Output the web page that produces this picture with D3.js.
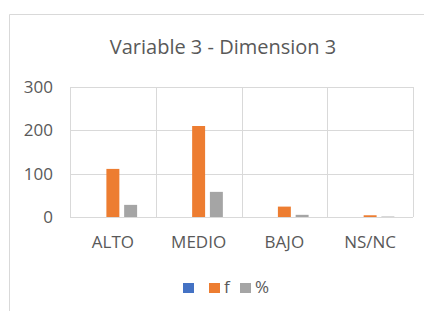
<!DOCTYPE html>
<html>
<head>
<meta charset="utf-8">
<script src="https://cdn.jsdelivr.net/npm/d3@7"></script>
<style>
  body { margin: 0; background: #fff; }
  text { font-family: "Open Sans", "Noto Sans", sans-serif; fill: #595959; }
  .grid line { stroke: #d9d9d9; stroke-width: 1; }
</style>
</head>
<body>
<script>
var categories = ['ALTO', 'MEDIO', 'BAJO', 'NS/NC'];
var seriesNames = ['', 'f', '%'];
var seriesColors = ['#4472c4', '#ed7d31', '#a5a5a5'];
var blankValues = [0, 0, 0, 0];
var fValues = [111, 210, 24, 4];
var pctValues = [28, 58, 5, 1];
var yTicks = [0, 100, 200, 300];

var svgWidth = 424, svgHeight = 311;
var plotLeft = 70, plotRight = 413, plotTop = 87, plotBottom = 217;

var svg = d3.select('body')
    .append('svg')
    .attr('width', svgWidth)
    .attr('height', svgHeight);

// chart frame (only top and left show)
svg.append('path')
    .attr('d', 'M9.5,' + svgHeight + 'V14.5H' + svgWidth)
    .attr('fill', 'none')
    .attr('stroke', '#d9d9d9');

svg.append('text')
    .attr('x', 223)
    .attr('y', 54)
    .attr('text-anchor', 'middle')
    .style('font-size', '20px')
    .text('Variable 3 - Dimension 3');

var xScale = d3.scaleBand()
    .domain(categories)
    .range([plotLeft, plotRight]);

var yScale = d3.scaleLinear()
    .domain([0, 300])
    .range([plotBottom, plotTop]);

var series = [blankValues, fValues, pctValues];
var inner = d3.scaleBand()
    .domain(d3.range(series.length))
    .range([0, xScale.bandwidth()])
    .paddingInner(0.27)
    .paddingOuter(1.05);

// horizontal grid
svg.append('g')
    .attr('class', 'grid')
    .selectAll('line')
    .data(yTicks)
    .join('line')
    .attr('x1', plotLeft)
    .attr('x2', plotRight)
    .attr('y1', function(d) { return Math.round(yScale(d)) + 0.5; })
    .attr('y2', function(d) { return Math.round(yScale(d)) + 0.5; });

// vertical grid between categories
svg.append('g')
    .attr('class', 'grid')
    .selectAll('line')
    .data(categories.concat(['end']))
    .join('line')
    .attr('x1', function(d, i) { return Math.round(plotLeft + i * xScale.step()) + 0.5; })
    .attr('x2', function(d, i) { return Math.round(plotLeft + i * xScale.step()) + 0.5; })
    .attr('y1', plotTop)
    .attr('y2', plotBottom);

// y axis labels
var yAxis = d3.axisLeft(yScale).tickValues(yTicks).tickSize(0).tickPadding(17);
svg.append('g')
    .attr('transform', 'translate(' + plotLeft + ',0)')
    .call(yAxis)
    .call(function(g) { g.select('.domain').remove(); })
    .selectAll('text')
    .style('font-size', '17px')
    .attr('fill', '#595959');

// x axis labels
var xAxis = d3.axisBottom(xScale).tickSize(0).tickPadding(19);
svg.append('g')
    .attr('transform', 'translate(0,' + plotBottom + ')')
    .call(xAxis)
    .call(function(g) { g.select('.domain').remove(); })
    .selectAll('text')
    .style('font-size', '17px')
    .attr('fill', '#595959');

// bars
series.forEach(function(vals, s) {
    svg.append('g')
        .selectAll('rect')
        .data(vals)
        .join('rect')
        .attr('x', function(d, i) { return xScale(categories[i]) + inner(s); })
        .attr('width', inner.bandwidth())
        .attr('y', function(d) { return yScale(d); })
        .attr('height', function(d) { return plotBottom - yScale(d); })
        .attr('fill', seriesColors[s]);
});

// legend
var legendX = [183, 209, 240];
var legend = svg.append('g');
seriesNames.forEach(function(name, s) {
    legend.append('rect')
        .attr('x', legendX[s])
        .attr('y', 283)
        .attr('width', 11)
        .attr('height', 10)
        .attr('fill', seriesColors[s]);
    legend.append('text')
        .attr('x', legendX[s] + 15)
        .attr('y', 293)
        .style('font-size', '17px')
        .text(name);
});
</script>
</body>
</html>
